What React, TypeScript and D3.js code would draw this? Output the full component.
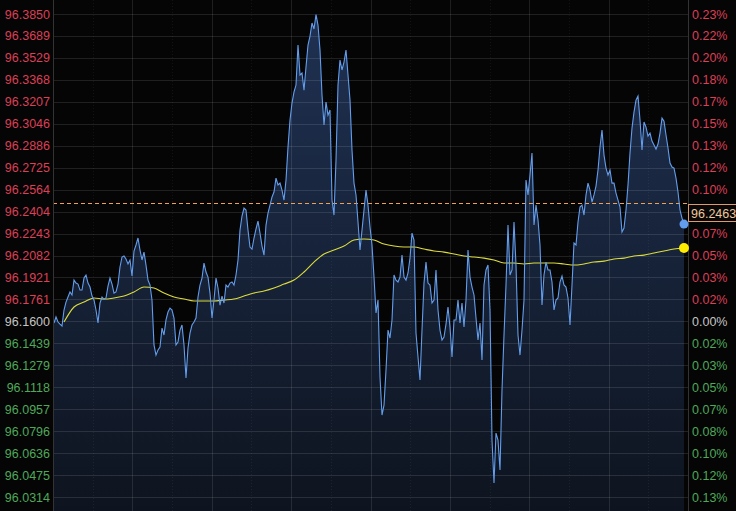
import React from "react";
import * as d3 from "d3";

// Intraday price series (uniform sampling)
const prices = [
  96.1588, 96.1632, 96.1595, 96.1580, 96.1566, 96.1683, 96.1741, 96.1778, 96.1815, 96.1793,
  96.1902, 96.1880, 96.1873, 96.1829, 96.1829, 96.1917, 96.1939, 96.1880, 96.1851, 96.1785,
  96.1756, 96.1683, 96.1588, 96.1734, 96.1778, 96.1763, 96.1771, 96.1858, 96.1917, 96.1873,
  96.1807, 96.1815, 96.1873, 96.1998, 96.2071, 96.2078, 96.2056, 96.2020, 96.2049, 96.1932,
  96.2115, 96.2159, 96.2210, 96.2122, 96.2049, 96.2107, 96.2012, 96.1902, 96.1866, 96.1756,
  96.1427, 96.1353, 96.1390, 96.1412,
  96.1551, 96.1500, 96.1610, 96.1668, 96.1697, 96.1683, 96.1624, 96.1427, 96.1449, 96.1536,
  96.1573, 96.1427, 96.1185, 96.1405, 96.1514, 96.1573, 96.1595, 96.1624, 96.1778, 96.1866,
  96.1917, 96.2027, 96.1961, 96.1924, 96.1807, 96.1624, 96.1756, 96.1917, 96.1844, 96.1719,
  96.1785, 96.1734, 96.1866, 96.1851, 96.1880, 96.1888, 96.1866, 96.1939, 96.2049, 96.2268,
  96.2371, 96.2429, 96.2415, 96.2268, 96.2144, 96.2129, 96.2210, 96.2276, 96.2334, 96.2246,
  96.2151, 96.2085,
  96.2305, 96.2393, 96.2451, 96.2510, 96.2547, 96.2649, 96.2598, 96.2612, 96.2561, 96.2488,
  96.2634, 96.2876, 96.3074, 96.3198, 96.3279, 96.3330, 96.3623, 96.3403, 96.3418, 96.3293,
  96.3462, 96.3623, 96.3688, 96.3784, 96.3740, 96.3845, 96.3769, 96.3586, 96.3257, 96.3037,
  96.3205, 96.3110, 96.3147, 96.2488, 96.2378, 96.2781, 96.3330, 96.3513, 96.3440, 96.3498,
  96.3586, 96.3403, 96.3220, 96.2854, 96.2612, 96.2525, 96.2327,
  96.2122, 96.2268, 96.2415, 96.2561, 96.2451, 96.2290, 96.2159, 96.1924, 96.1661, 96.1756,
  96.1192, 96.0914, 96.0987, 96.1244, 96.1536, 96.1478, 96.1610, 96.1939, 96.1902, 96.1888,
  96.1924, 96.2085, 96.1924, 96.1902, 96.1954, 96.2063, 96.2246, 96.2195, 96.1514, 96.1339,
  96.1170, 96.1536, 96.1880, 96.2034, 96.1880, 96.1866, 96.1734, 96.1756, 96.1976, 96.1683,
  96.1536, 96.1463, 96.1485, 96.1580, 96.1705, 96.1558, 96.1339, 96.1610, 96.1610, 96.1756,
  96.1588, 96.1734, 96.1558, 96.1756, 96.2122,
  96.1924, 96.1851, 96.1793, 96.1624, 96.1463, 96.1588, 96.1317, 96.1866, 96.1976, 96.2012,
  96.1683, 96.0731, 96.0416, 96.0782, 96.0731, 96.0512, 96.1097, 96.1500, 96.1866, 96.2305,
  96.1939, 96.1976, 96.2327, 96.2012, 96.1500, 96.1353, 96.1536, 96.1756, 96.2634, 96.2525,
  96.2671, 96.2832, 96.2305, 96.2451, 96.2342, 96.2159, 96.1719, 96.1939, 96.2034, 96.1976,
  96.1976, 96.1888, 96.1683, 96.1756, 96.1771, 96.1888, 96.1932, 96.1866, 96.1851, 96.1771,
  96.1573, 96.1866, 96.2173,
  96.2159, 96.2327, 96.2437, 96.2451, 96.2378, 96.2525, 96.2612, 96.2561, 96.2473, 96.2525,
  96.2590, 96.2708, 96.2876, 96.3000, 96.2817, 96.2722, 96.2671, 96.2708, 96.2612, 96.2612,
  96.2539, 96.2488, 96.2437, 96.2254, 96.2283, 96.2415, 96.2598, 96.2832, 96.3015, 96.3132,
  96.3220, 96.3249, 96.3074, 96.2854, 96.3059, 96.3022, 96.2956, 96.2978, 96.2920, 96.2891,
  96.2861, 96.2898, 96.2978, 96.3088, 96.3066, 96.2964, 96.2869, 96.2759, 96.2730, 96.2722,
  96.2649, 96.2547, 96.2415, 96.2356, 96.2312,
];

// Moving average, one value every MA_STEP samples starting at MA_START
const MA_START = 5;
const MA_STEP = 5;
const maValues = [
  96.1595, 96.1705, 96.1741, 96.1771, 96.1763, 96.1771, 96.1785, 96.1815, 96.1851, 96.1844,
  96.1807, 96.1778, 96.1763, 96.1749, 96.1749, 96.1749, 96.1756, 96.1763, 96.1785, 96.1807,
  96.1822, 96.1844, 96.1873, 96.1902, 96.1961, 96.2034, 96.2093, 96.2122, 96.2151, 96.2195,
  96.2203, 96.2195, 96.2166, 96.2151, 96.2144, 96.2144, 96.2129, 96.2115, 96.2107, 96.2093,
  96.2078, 96.2071, 96.2063, 96.2049, 96.2027, 96.2027, 96.2020, 96.2027, 96.2027, 96.2027,
  96.2020, 96.2012, 96.2020, 96.2034, 96.2041, 96.2056, 96.2063, 96.2078, 96.2085, 96.2100,
  96.2115, 96.2129, 96.2137,
];

const leftTicks = [
  "96.3850", "96.3689", "96.3529", "96.3368", "96.3207", "96.3046", "96.2886", "96.2725",
  "96.2564", "96.2404", "96.2243", "96.2082", "96.1921", "96.1761", "96.1600", "96.1439",
  "96.1279", "96.1118", "96.0957", "96.0796", "96.0636", "96.0475", "96.0314",
];
const rightTicks = [
  "0.23%", "0.22%", "0.20%", "0.18%", "0.17%", "0.15%", "0.13%", "0.12%",
  "0.10%", "0.08%", "0.07%", "0.05%", "0.03%", "0.02%", "0.00%", "0.02%",
  "0.03%", "0.05%", "0.07%", "0.08%", "0.10%", "0.12%", "0.13%",
];
const baseValue = 96.16;
const lastPrice = 96.2463;
const lastLabel = "96.2463";

const W = 736;
const H = 511;
const PL = 53;
const PR = 688;

const RED = "#dc3f56";
const GREEN = "#4fa85a";
const GRAY = "#c4c4c4";
const FONT = "'Liberation Sans', Arial, sans-serif";

export default function App() {
  const n = prices.length;
  const x = d3.scaleLinear().domain([0, n - 1]).range([54, 684]);
  const y = d3.scaleLinear().domain([96.0314, 96.385]).range([497, 14]);

  const line = d3
    .line<number>()
    .x((_, i) => x(i))
    .y((d) => y(d));
  const area = d3
    .area<number>()
    .x((_, i) => x(i))
    .y0(H)
    .y1((d) => y(d));
  const maLine = d3
    .line<number>()
    .x((_, k) => x(MA_START + k * MA_STEP))
    .y((d) => y(d))
    .curve(d3.curveMonotoneX);

  const vCount = 16;
  const vLines = d3.range(vCount + 1).map((k) => PL + ((PR - PL) * k) / vCount);

  const colorFor = (v: number) =>
    Math.abs(v - baseValue) < 1e-6 ? GRAY : v > baseValue ? RED : GREEN;

  const lastIdx = n - 1;
  const maLastIdx = MA_START + (maValues.length - 1) * MA_STEP;
  const yLast = y(lastPrice);
  const boxTop = Math.round(yLast) + 1.5;
  const boxH = 17;

  return (
    <svg
      width={W}
      height={H}
      style={{ position: "absolute", left: 0, top: 0, display: "block" }}
      fontFamily={FONT}
    >
      <defs>
        <linearGradient id="fillGrad" gradientUnits="userSpaceOnUse" x1="0" y1="14" x2="0" y2={H}>
          <stop offset="0%" stopColor="#1f3152" />
          <stop offset="100%" stopColor="#0e141f" />
        </linearGradient>
        <clipPath id="plotClip">
          <rect x={PL} y={0} width={PR - PL} height={H} />
        </clipPath>
      </defs>
      <rect x={0} y={0} width={W} height={H} fill="#050505" />

      <g clipPath="url(#plotClip)">
        <path d={area(prices) || ""} fill="url(#fillGrad)" />
        {leftTicks.map((t) => (
          <line
            key={"h" + t}
            x1={PL}
            x2={PR}
            y1={Math.round(y(+t)) + 0.5}
            y2={Math.round(y(+t)) + 0.5}
            stroke="rgba(255,255,255,0.11)"
            strokeWidth={1}
          />
        ))}
        {vLines.map((vx, k) => (
          <line
            key={"v" + k}
            x1={Math.round(vx) + 0.5}
            x2={Math.round(vx) + 0.5}
            y1={0}
            y2={H}
            stroke={k % 2 === 0 ? "rgba(255,255,255,0.1)" : "rgba(255,255,255,0.06)"}
            strokeDasharray={k % 2 === 0 ? undefined : "1 2"}
            strokeWidth={1}
          />
        ))}
        <line
          x1={PL}
          x2={PR}
          y1={Math.round(yLast) + 0.5}
          y2={Math.round(yLast) + 0.5}
          stroke="#f0a050"
          strokeDasharray="4 3"
          strokeWidth={1}
        />
        <path d={maLine(maValues) || ""} fill="none" stroke="#dcdc3c" strokeWidth={1.1} />
        <path d={line(prices) || ""} fill="none" stroke="#639ded" strokeWidth={1.1} />
      </g>

      <line x1={PL + 0.5} x2={PL + 0.5} y1={0} y2={H} stroke="#333" />
      <line x1={PR + 0.5} x2={PR + 0.5} y1={0} y2={H} stroke="#333" />

      <circle cx={x(maLastIdx)} cy={y(maValues[maValues.length - 1])} r={5} fill="#ffee00" />
      <circle cx={x(lastIdx)} cy={y(prices[lastIdx])} r={4.5} fill="#639ded" />

      {leftTicks.map((t) => (
        <text
          key={"l" + t}
          x={50}
          y={y(+t)}
          dy="0.36em"
          textAnchor="end"
          fontSize={12.5}
          fill={colorFor(+t)}
        >
          {t}
        </text>
      ))}
      {rightTicks.map((t, i) => {
        const ty = y(+leftTicks[i]);
        // hidden behind the last-price label box, as in the original
        if (ty > boxTop - 4 && ty < boxTop + boxH + 4) return null;
        return (
          <text
            key={"r" + i}
            x={692}
            y={ty}
            dy="0.36em"
            textAnchor="start"
            fontSize={12.5}
            fill={colorFor(+leftTicks[i])}
          >
            {t}
          </text>
        );
      })}

      <rect
        x={PR + 0.5}
        y={boxTop}
        width={W - PR}
        height={boxH}
        fill="#080808"
        stroke="#e09a6a"
        strokeWidth={1}
      />
      <text x={PR + 3} y={boxTop + boxH / 2} dy="0.36em" fontSize={12.5} fill="#efc69c">
        {lastLabel}
      </text>
    </svg>
  );
}
